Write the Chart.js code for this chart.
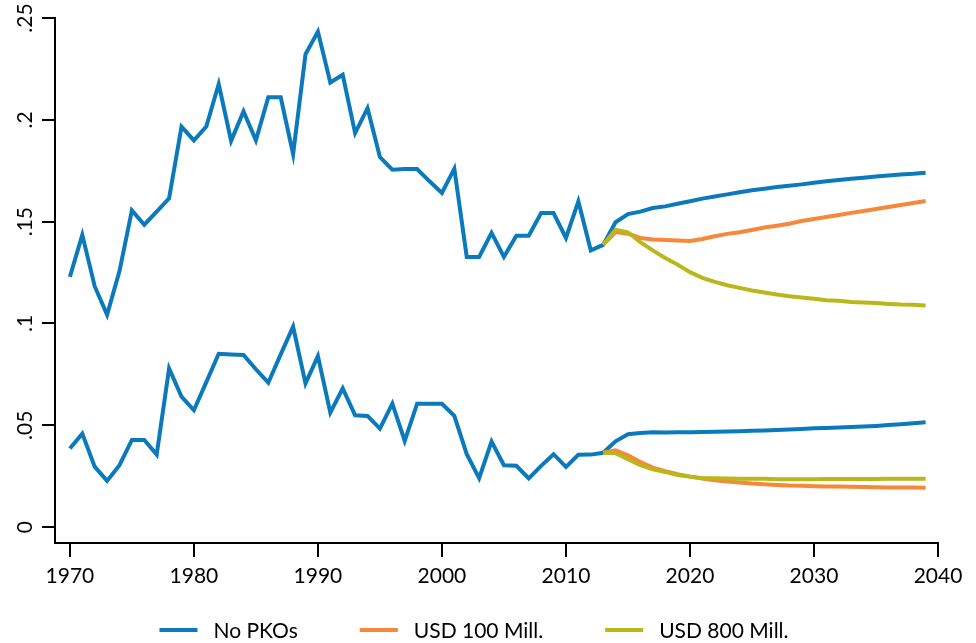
<!DOCTYPE html>
<html>
<head>
<meta charset="utf-8">
<script src="https://cdn.jsdelivr.net/npm/chart.js@4.4.0/dist/chart.umd.min.js"></script>
<style>
  html, body { margin: 0; padding: 0; background: #fff; }
  #wrap { width: 976px; height: 643px; }
</style>
</head>
<body>
<div id="wrap"><canvas id="chart"></canvas></div>
<script>
// years 1970-2039 (observed to 2013, projections after)
const years = Array.from({ length: 70 }, (_, i) => 1970 + i);
const projYears = years.slice(43); // 2013-2039

// upper line, no PKOs
const noPkoHigh = [
  0.1229, 0.1435, 0.1183, 0.1043, 0.1257, 0.1555, 0.1485, 0.1549, 0.1614, 0.1967,
  0.1899, 0.1967, 0.2176, 0.1897, 0.2041, 0.1899, 0.2111, 0.2111, 0.1832, 0.2322,
  0.2433, 0.2183, 0.2221, 0.1935, 0.2057, 0.1817, 0.1755, 0.1758, 0.1758, 0.1698,
  0.1641, 0.1760, 0.1327, 0.1327, 0.1445, 0.1327, 0.1431, 0.1431, 0.1542, 0.1542,
  0.1420, 0.1600, 0.1359, 0.1386, 0.1497, 0.1537, 0.1549, 0.1567, 0.1575, 0.1588,
  0.1600, 0.1613, 0.1623, 0.1634, 0.1644, 0.1654, 0.1662, 0.1670, 0.1676, 0.1683,
  0.1691, 0.1698, 0.1704, 0.1711, 0.1716, 0.1722, 0.1727, 0.1732, 0.1735, 0.1740
];
// lower line, no PKOs
const noPkoLow = [
  0.0386, 0.0459, 0.0297, 0.0227, 0.0304, 0.0428, 0.0428, 0.0356, 0.0779, 0.0641,
  0.0574, 0.0712, 0.0851, 0.0848, 0.0845, 0.0775, 0.0709, 0.0848, 0.0984, 0.0706,
  0.0840, 0.0562, 0.0681, 0.0549, 0.0546, 0.0484, 0.0606, 0.0423, 0.0606, 0.0606,
  0.0606, 0.0546, 0.0358, 0.0240, 0.0420, 0.0304, 0.0301, 0.0239, 0.0301, 0.0358,
  0.0296, 0.0355, 0.0356, 0.0365, 0.0421, 0.0456, 0.0462, 0.0466, 0.0464, 0.0466,
  0.0466, 0.0467, 0.0468, 0.0469, 0.0471, 0.0473, 0.0475, 0.0477, 0.0479, 0.0482,
  0.0485, 0.0487, 0.0489, 0.0492, 0.0494, 0.0497, 0.0501, 0.0505, 0.0510, 0.0515
];
// projections 2013-2039
const usd100High = [
  0.1386, 0.1449, 0.1441, 0.1420, 0.1412, 0.1410, 0.1408, 0.1405, 0.1415, 0.1428,
  0.1440, 0.1448, 0.1459, 0.1471, 0.1480, 0.1490, 0.1503, 0.1513, 0.1523, 0.1533,
  0.1543, 0.1552, 0.1562, 0.1572, 0.1582, 0.1592, 0.1601
];
const usd800High = [
  0.1386, 0.1461, 0.1448, 0.1399, 0.1359, 0.1322, 0.1289, 0.1252, 0.1224, 0.1204,
  0.1188, 0.1175, 0.1162, 0.1152, 0.1142, 0.1134, 0.1127, 0.1121, 0.1114, 0.1111,
  0.1106, 0.1103, 0.1100, 0.1096, 0.1093, 0.1092, 0.1088
];
const usd100Low = [
  0.0365, 0.0377, 0.0353, 0.0320, 0.0292, 0.0275, 0.0260, 0.0248, 0.0239, 0.0230,
  0.0224, 0.0219, 0.0214, 0.0211, 0.0207, 0.0204, 0.0203, 0.0201, 0.0200, 0.0199,
  0.0198, 0.0197, 0.0196, 0.0195, 0.0195, 0.0194, 0.0193
];
const usd800Low = [
  0.0365, 0.0363, 0.0333, 0.0304, 0.0284, 0.0271, 0.0256, 0.0248, 0.0240, 0.0240,
  0.0239, 0.0238, 0.0237, 0.0237, 0.0235, 0.0235, 0.0235, 0.0235, 0.0236, 0.0236,
  0.0236, 0.0236, 0.0236, 0.0237, 0.0237, 0.0238, 0.0238
];

const xTicks = [1970, 1980, 1990, 2000, 2010, 2020, 2030, 2040];
const yTicks = [0, 0.05, 0.1, 0.15, 0.2, 0.25];
const seriesNames = ['No PKOs', 'USD 100 Mill.', 'USD 800 Mill.'];
const seriesColors = ['#0b7abd', '#f5883a', '#bab71a'];

const FONT = 'Lato';
const pts = (xs, ys) => ys.map((v, i) => ({ x: xs[i], y: v }));

function line(data, s, order) {
  return {
    label: seriesNames[s],
    data: data,
    borderColor: seriesColors[s],
    backgroundColor: seriesColors[s],
    borderWidth: 4,
    pointRadius: 0,
    tension: 0,
    order: order
  };
}

// legend drawn like Stata's: key line + label, centred under the plot
const stataLegend = {
  id: 'stataLegend',
  afterDraw(chart) {
    const ctx = chart.ctx;
    ctx.save();
    ctx.font = '21px ' + FONT;
    ctx.textBaseline = 'middle';
    const keyW = 38, keyGap = 16, itemGap = 62;
    const widths = seriesNames.map(n => keyW + keyGap + ctx.measureText(n).width);
    const total = widths.reduce((a, b) => a + b, 0) + itemGap * (widths.length - 1);
    let x = chart.width / 2 - 14 - total / 2;
    const y = 630;
    seriesNames.forEach((n, i) => {
      ctx.fillStyle = seriesColors[i];
      ctx.fillRect(x, y - 2, keyW, 4);
      ctx.fillStyle = '#000';
      ctx.fillText(n, x + keyW + keyGap, y + 1);
      x += widths[i] + itemGap;
    });
    ctx.restore();
  }
};

new Chart(document.getElementById('chart'), {
  type: 'line',
  data: {
    datasets: [
      line(pts(years, noPkoHigh), 0, 3),
      line(pts(years, noPkoLow), 0, 3),
      line(pts(projYears, usd100High), 1, 2),
      line(pts(projYears, usd100Low), 1, 2),
      line(pts(projYears, usd800High), 2, 1),
      line(pts(projYears, usd800Low), 2, 1)
    ]
  },
  options: {
    responsive: true,
    maintainAspectRatio: false,
    animation: false,
    layout: { padding: { top: 18, right: 38, bottom: 50, left: 0 } },
    plugins: {
      legend: { display: false },
      tooltip: { enabled: false }
    },
    scales: {
      x: {
        type: 'linear',
        min: 1968.8,
        max: 2040,
        afterBuildTicks: s => { s.ticks = xTicks.map(v => ({ value: v })); },
        afterFit: s => { s.height = 50; },
        grid: { drawOnChartArea: false, drawTicks: true, tickLength: 14, color: '#000', lineWidth: 2 },
        border: { display: true, color: '#000', width: 2 },
        ticks: {
          color: '#000',
          font: { family: FONT, size: 21 },
          padding: 7,
          maxRotation: 0,
          callback: v => String(v)
        }
      },
      y: {
        min: -0.0078,
        max: 0.25,
        afterBuildTicks: s => { s.ticks = yTicks.map(v => ({ value: v })); },
        afterFit: s => { s.width = 55; },
        grid: { drawOnChartArea: false, drawTicks: true, tickLength: 13, color: '#000', lineWidth: 2 },
        border: { display: true, color: '#000', width: 2 },
        ticks: {
          color: '#000',
          font: { family: FONT, size: 21 },
          padding: 2,
          minRotation: 90,
          maxRotation: 90,
          crossAlign: 'center',
          callback: v => v === 0 ? '0' : String(Number(v.toFixed(2))).replace(/^0/, '')
        }
      }
    }
  },
  plugins: [stataLegend]
});
</script>
</body>
</html>
